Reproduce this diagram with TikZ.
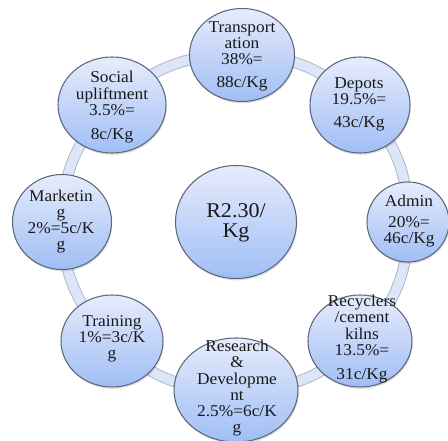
\documentclass[tikz,border=0pt]{standalone}
\usepackage{fontspec}
\setmainfont[FakeStretch=1.05]{Liberation Serif}
\usetikzlibrary{shapes.geometric,backgrounds}

\definecolor{bubtop}{RGB}{230,236,252}
\definecolor{bubbot}{RGB}{160,190,245}
\definecolor{bubedge}{RGB}{92,102,122}
\definecolor{ringfill}{RGB}{221,230,248}
\definecolor{ringedge}{RGB}{170,180,200}
\definecolor{txt}{RGB}{25,25,25}

% centred lines, baseline of the node = baseline of the first line
\newcommand{\cellstack}[1]{\begin{tabular}[t]{@{}c@{}}#1\end{tabular}}

\begin{document}
\begin{tikzpicture}[x=1pt,y=1pt,
  bubble/.style={ellipse, draw=bubedge, line width=1.05pt,
    top color=bubtop, bottom color=bubbot, inner sep=0pt,
    preaction={fill=black, fill opacity=0.13,
      transform canvas={xshift=0.8pt, yshift=-1.8pt}}},
  lbl/.style={font=\fontsize{16.5}{16}\selectfont, text=txt,
    inner sep=0pt, anchor=base},
  bigl/.style={font=\fontsize{21}{20}\selectfont, text=txt,
    inner sep=0pt, anchor=base},
  ring/.style={draw=ringedge, line width=0.9pt, double=ringfill,
    double distance=9.5pt}]
\useasboundingbox (0,0) rectangle (448,-441);

% cost components around the ring
\node[bubble, minimum width=105pt, minimum height=93pt]  (tr) at (242,-55)  {};
\node[bubble, minimum width=100pt, minimum height=96pt]  (dp) at (360,-105) {};
\node[bubble, minimum width=82pt,  minimum height=80pt]  (ad) at (408,-222) {};
\node[bubble, minimum width=104pt, minimum height=92pt]  (rc) at (360,-341) {};
\node[bubble, minimum width=124pt, minimum height=104pt] (rd) at (236,-390) {};
\node[bubble, minimum width=102pt, minimum height=92pt]  (tn) at (112,-341) {};
\node[bubble, minimum width=99pt,  minimum height=95pt]  (mk) at (62,-222)  {};
\node[bubble, minimum width=108pt, minimum height=96pt]  (so) at (112,-105) {};
\node[bubble, minimum width=121pt, minimum height=113pt] (ct) at (236,-222) {};

% ring joining the components
\begin{scope}[on background layer]
  \foreach \a/\b in {tr/dp, dp/ad, ad/rc, rc/rd, rd/tn, tn/mk, mk/so, so/tr}
    \draw[ring] (\a.center) to[bend left=22.5] (\b.center);
\end{scope}

% labels
\node[lbl] (trl) at (242,-33)  {\cellstack{Transport\\ation\\38\%=\\[7pt]88c/Kg}};
\node[lbl] (dpl) at (359,-89)  {\cellstack{Depots\\19.5\%=\\[7pt]43c/Kg}};
\node[lbl] (adl) at (409,-207) {\cellstack{Admin\\[5pt]20\%=\\46c/Kg}};
\node[lbl] (rcl) at (362,-307) {\cellstack{Recyclers\\/cement\\kilns\\13.5\%=\\[8pt]31c/Kg}};
\node[lbl] (rdl) at (237,-352) {\cellstack{Research\\\&\\Developme\\nt\\2.5\%=6c/K\\g}};
\node[lbl] (tnl) at (112,-327) {\cellstack{Training\\1\%=3c/K\\g}};
\node[lbl] (mkl) at (61,-202)  {\cellstack{Marketin\\g\\2\%=5c/K\\g}};
\node[lbl] (sol) at (112,-83)  {\cellstack{Social\\upliftment\\3.5\%=\\[8pt]8c/Kg}};
\node[bigl] (ctl) at (236,-218) {\cellstack{R2.30/\\Kg}};
\end{tikzpicture}
\end{document}
